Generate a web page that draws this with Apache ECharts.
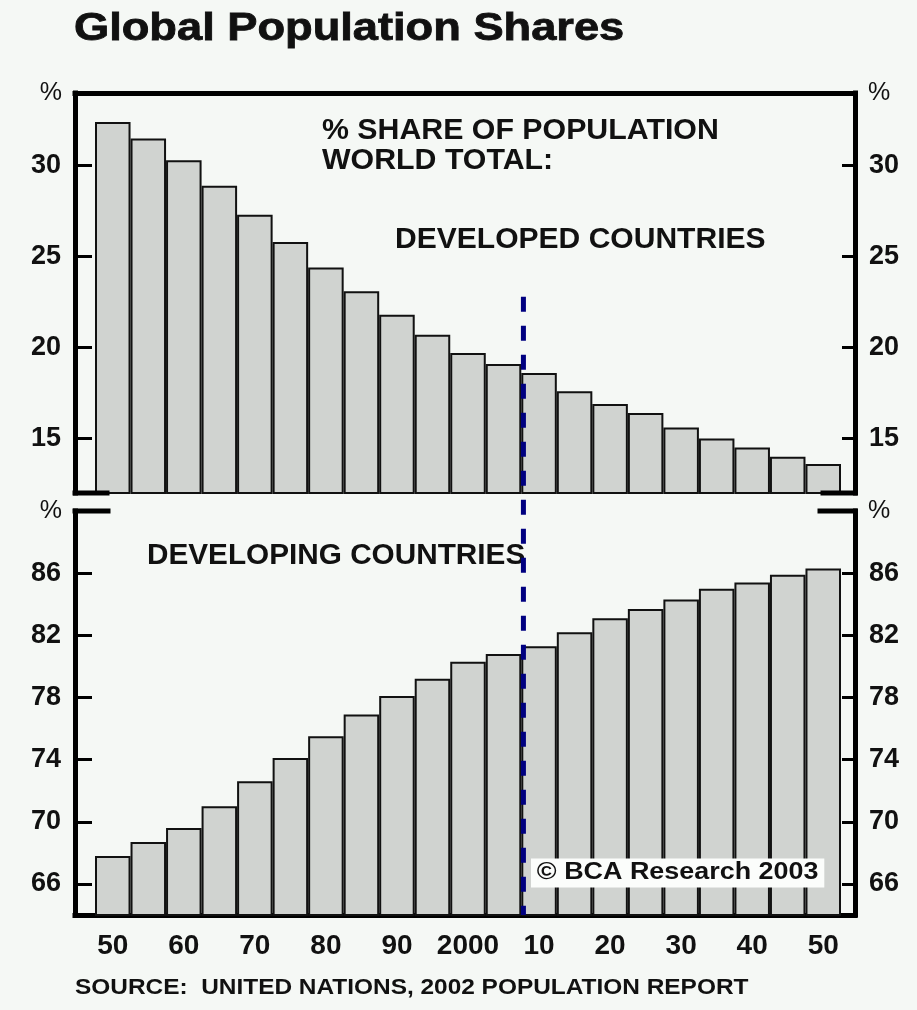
<!DOCTYPE html>
<html>
<head>
<meta charset="utf-8">
<script src="https://cdn.jsdelivr.net/npm/echarts@6/dist/echarts.min.js"></script>
<style>
  html, body { margin: 0; padding: 0; background: #f5f8f5; }
  #chart { width: 917px; height: 1010px; }
</style>
</head>
<body>
<div id="chart"></div>
<script>
// Population share by year, 1950-2050 (UN 2002 revision), in percent of world total
const years = [1950, 1955, 1960, 1965, 1970, 1975, 1980, 1985, 1990, 1995, 2000,
               2005, 2010, 2015, 2020, 2025, 2030, 2035, 2040, 2045, 2050];
const developedShare = [32.4, 31.5, 30.3, 28.9, 27.3, 25.8, 24.4, 23.1, 21.8, 20.7, 19.7,
                        19.1, 18.6, 17.6, 16.9, 16.4, 15.6, 15.0, 14.5, 14.0, 13.6];
const developingShare = [67.8, 68.7, 69.6, 71.0, 72.6, 74.1, 75.5, 76.9, 78.1, 79.2, 80.3,
                         80.8, 81.3, 82.2, 83.1, 83.7, 84.3, 85.0, 85.4, 85.9, 86.3];

// Tick labels
const yearTicks = [1950, 1960, 1970, 1980, 1990, 2000, 2010, 2020, 2030, 2040, 2050];
const developedTicks = [15, 20, 25, 30];
const developingTicks = [66, 70, 74, 78, 82, 86];

// Projection boundary (history / forecast)
const forecastStart = 2007.8;
const forecastLineTop = 22.8;

// Layout
const FONT = "'Liberation Sans', Arial, Helvetica, sans-serif";
const GRID_LEFT = 75, GRID_RIGHT = 62;
const TOP1 = 93, H1 = 400;
const TOP2 = 511, H2 = 404;
const X_MIN = 1944.685, X_MAX = 2054.47;
const PLOT_W = 917 - GRID_LEFT - GRID_RIGHT;
const BAR_W = PLOT_W * 5 / (X_MAX - X_MIN);
const INK = '#111';

const chart = echarts.init(document.getElementById('chart'), null, { renderer: 'canvas' });

const frameLine = { show: true, lineStyle: { color: '#000', width: 5, cap: 'square' } };

function yAxisDef(gridIndex, position, min, max, ticks) {
  return {
    type: 'value', gridIndex, position, min, max,
    axisLine: frameLine,
    axisTick: {
      show: true, inside: true, length: position === 'left' ? 17 : 13,
      customValues: ticks, lineStyle: { color: '#000', width: 3 }
    },
    axisLabel: {
      show: true, customValues: ticks, margin: 14,
      color: INK, fontFamily: FONT, fontWeight: 'bold', fontSize: 27
    },
    splitLine: { show: false },
    name: '%', nameLocation: 'end', nameGap: 0,
    nameTextStyle: {
      color: INK, fontFamily: FONT, fontSize: 25,
      align: position === 'left' ? 'right' : 'left', verticalAlign: 'middle',
      padding: position === 'left' ? [4, 13, 0, 0] : [4, 0, 0, 13]
    }
  };
}

function barSeries(index, values) {
  return {
    type: 'bar', xAxisIndex: index, yAxisIndex: index * 2,
    data: years.map((yr, i) => [yr, values[i]]),
    barWidth: BAR_W,
    itemStyle: { color: '#d0d3d0', borderColor: '#111', borderWidth: 2 },
    emphasis: { disabled: true },
    animation: false
  };
}

const option = {
  backgroundColor: '#f5f8f5',
  animation: false,
  grid: [
    { left: GRID_LEFT, right: GRID_RIGHT, top: TOP1, height: H1 },
    { left: GRID_LEFT, right: GRID_RIGHT, top: TOP2, height: H2 }
  ],
  xAxis: [
    {
      type: 'value', gridIndex: 0, position: 'top', min: X_MIN, max: X_MAX,
      axisLine: frameLine, axisTick: { show: false }, axisLabel: { show: false },
      splitLine: { show: false }
    },
    {
      type: 'value', gridIndex: 1, position: 'bottom', min: X_MIN, max: X_MAX,
      axisLine: frameLine, axisTick: { show: false }, splitLine: { show: false },
      axisLabel: {
        show: true, customValues: yearTicks, margin: 17,
        color: INK, fontFamily: FONT, fontWeight: 'bold', fontSize: 28,
        formatter: v => (v === 2000 ? '2000' : String(v % 100).padStart(2, '0'))
      }
    }
  ],
  yAxis: [
    yAxisDef(0, 'left', 12, 34, developedTicks),
    yAxisDef(0, 'right', 12, 34, developedTicks),
    yAxisDef(1, 'left', 64, 90, developingTicks),
    yAxisDef(1, 'right', 64, 90, developingTicks)
  ],
  series: [
    barSeries(0, developedShare),
    barSeries(1, developingShare)
  ]
};

chart.setOption(option);

// Annotations, broken-axis stubs and the forecast divider
const bot1 = TOP1 + H1;
const right = 917 - GRID_RIGHT;
const stub = { stroke: '#000', lineWidth: 5, lineCap: 'square' };
const p0 = chart.convertToPixel({ xAxisIndex: 0, yAxisIndex: 0 }, [forecastStart, forecastLineTop]);
const p1 = chart.convertToPixel({ xAxisIndex: 1, yAxisIndex: 2 }, [forecastStart, 64]);

function label(text, x, y, size, sx, extra) {
  return {
    type: 'text', x, y, z: 50, scaleX: sx, originX: 0, originY: 0,
    style: Object.assign({
      text, fill: INK, font: 'bold ' + size + 'px ' + FONT,
      align: 'left', verticalAlign: 'middle',
      textAlign: 'left', textVerticalAlign: 'middle'
    }, extra || {})
  };
}

chart.setOption({
  graphic: [
    label('Global Population Shares', 74, 30, 38, 1.19, { stroke: INK, lineWidth: 0.8 }),
    label('% SHARE OF POPULATION\nWORLD TOTAL:', 322, 146, 29, 1.045, { lineHeight: 30 }),
    label('DEVELOPED COUNTRIES', 395, 240, 29, 1.036),
    label('DEVELOPING COUNTRIES', 147, 556, 29, 1.025),
    label('\u00A9 BCA Research 2003', 531, 873, 23, 1.17,
      { backgroundColor: '#fbfdfb', padding: [3, 5, 3, 5] }),
    label('SOURCE:  UNITED NATIONS, 2002 POPULATION REPORT', 75, 988, 22, 1.11),
    { type: 'line', z: 40, shape: { x1: GRID_LEFT, y1: bot1, x2: GRID_LEFT + 32, y2: bot1 }, style: stub },
    { type: 'line', z: 40, shape: { x1: right - 32, y1: bot1, x2: right, y2: bot1 }, style: stub },
    { type: 'line', z: 40, shape: { x1: GRID_LEFT, y1: TOP2, x2: GRID_LEFT + 33, y2: TOP2 }, style: stub },
    { type: 'line', z: 40, shape: { x1: right - 35, y1: TOP2, x2: right, y2: TOP2 }, style: stub },
    {
      type: 'line', z: 60,
      shape: { x1: p0[0], y1: p0[1], x2: p1[0], y2: p1[1] },
      style: { stroke: '#000080', lineWidth: 5, lineDash: [15, 14] }
    }
  ]
});
</script>
</body>
</html>
